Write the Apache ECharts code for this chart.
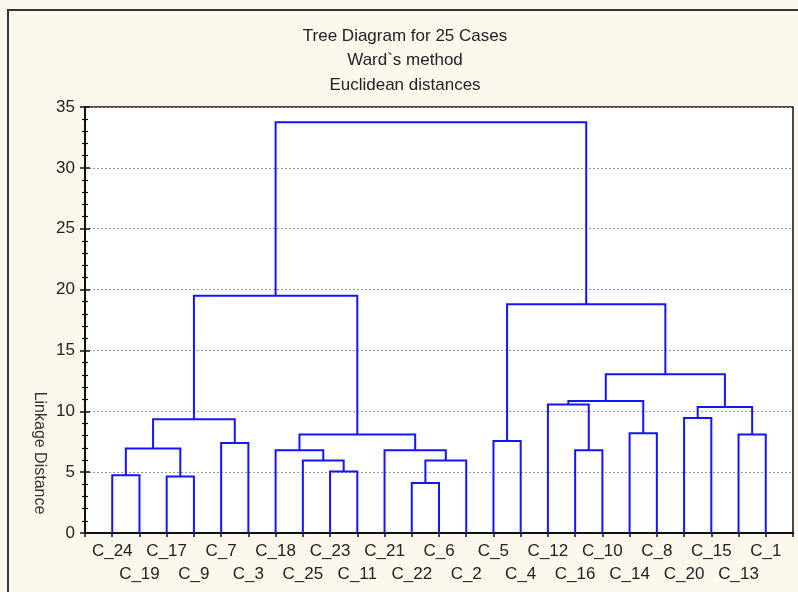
<!DOCTYPE html>
<html>
<head>
<meta charset="utf-8">
<script src="https://cdn.jsdelivr.net/npm/echarts@6/dist/echarts.min.js"></script>
<style>
  html, body { margin: 0; padding: 0; background: #fdf8ee; }
  #chart { width: 798px; height: 592px; }
</style>
</head>
<body>
<div id="chart"></div>
<script>
// leaf order along the x axis
const leafNames = ['C_24', 'C_19', 'C_17', 'C_9', 'C_7', 'C_3', 'C_18', 'C_25', 'C_23', 'C_11', 'C_21', 'C_22', 'C_6',
    'C_2', 'C_5', 'C_4', 'C_12', 'C_16', 'C_10', 'C_14', 'C_8', 'C_20', 'C_15', 'C_13', 'C_1'];
// merge steps: '#k' refers to the cluster made by step k
const joinA = ['C_22', 'C_17', 'C_24', 'C_23', 'C_25', '#0', 'C_18', 'C_21', 'C_16', '#2', 'C_7', 'C_5',
    '#6', 'C_13', 'C_14', '#9', 'C_20', '#16', 'C_12', '#18', '#19', '#15', '#11', '#21'];
const joinB = ['C_6', 'C_9', 'C_19', 'C_11', '#3', 'C_2', '#4', '#5', 'C_10', '#1', 'C_3', 'C_4',
    '#7', 'C_1', 'C_8', '#10', 'C_15', '#13', '#8', '#14', '#17', '#12', '#20', '#22'];
const joinHeight = [4.1, 4.65, 4.75, 5.05, 5.95, 5.95, 6.8, 6.8, 6.8, 6.95, 7.4, 7.55,
    8.1, 8.1, 8.2, 9.35, 9.45, 10.35, 10.55, 10.85, 13.05, 19.5, 18.8, 33.75];
const yTicks = [0, 35, 5];

const txt = '#222';
const font = 'Arial, "Liberation Sans", sans-serif';

function nodePos(ref) {
    if (ref.charAt(0) === '#') {
        const k = +ref.slice(1);
        const a = nodePos(joinA[k]), b = nodePos(joinB[k]);
        return { x: (a.x + b.x) / 2, h: joinHeight[k] };
    }
    return { x: leafNames.indexOf(ref) + 1, h: 0 };
}

const links = joinHeight.map((h, k) => {
    const a = nodePos(joinA[k]), b = nodePos(joinB[k]);
    return { coords: [[a.x, a.h], [a.x, h], [b.x, h], [b.x, b.h]] };
});

const myChart = echarts.init(document.getElementById('chart'));
const option = {
    backgroundColor: '#fdf8ee',
    animation: false,
    title: {
        text: 'Tree Diagram for 25 Cases\nWard`s method\nEuclidean distances',
        left: 405,
        top: 24,
        padding: 0,
        textAlign: 'center',
        textStyle: { fontSize: 17, fontWeight: 'normal', color: txt, fontFamily: font, lineHeight: 24.5 }
    },
    graphic: [{
        type: 'rect',
        shape: { x: 8, y: 10, width: 820, height: 620 },
        style: { fill: 'none', stroke: '#333', lineWidth: 2 },
        silent: true
    }, {
        type: 'text',
        x: 39, y: 453,
        rotation: -Math.PI / 2,
        style: { text: 'Linkage Distance', fill: '#333', font: '16px ' + font, textAlign: 'center', textVerticalAlign: 'middle' }
    }],
    grid: {
        left: 85, top: 107, right: 5, bottom: 59,
        show: true, backgroundColor: '#fff', borderColor: '#111', borderWidth: 1.5
    },
    xAxis: [{
        type: 'value', min: 0, max: leafNames.length + 1, interval: 1, position: 'bottom',
        axisLine: { show: true, lineStyle: { color: '#111', width: 2 } },
        axisTick: { show: false },
        splitLine: { show: false },
        axisLabel: {
            margin: 7, fontSize: 17, color: txt, fontFamily: font, lineHeight: 23,
            formatter: function (v) {
                const i = Math.round(v) - 1;
                if (i < 0 || i >= leafNames.length) return '';
                return i % 2 ? '\n' + leafNames[i] : leafNames[i];
            }
        }
    }, {
        type: 'value', min: 0, max: leafNames.length + 1, interval: 1, position: 'top',
        axisLine: { show: true, lineStyle: { color: '#111', width: 2 } },
        axisTick: { show: true, inside: true, length: 4, lineStyle: { color: '#111', width: 1.5 } },
        axisLabel: { show: false },
        splitLine: { show: false }
    }],
    yAxis: [{
        type: 'value', min: yTicks[0], max: yTicks[1], interval: yTicks[2], position: 'left',
        axisLine: { show: true, lineStyle: { color: '#111', width: 2 } },
        axisTick: { show: true, inside: true, length: 5, lineStyle: { color: '#111', width: 1.5 } },
        minorTick: { show: true, splitNumber: 5, length: 3, lineStyle: { color: '#111', width: 1.2 } },
        axisLabel: { margin: 10, fontSize: 17, color: txt, fontFamily: font },
        splitLine: { show: true, lineStyle: { color: '#999', type: [2, 2], width: 1 } }
    }, {
        type: 'value', min: yTicks[0], max: yTicks[1], interval: yTicks[2], position: 'right',
        axisLine: { show: true, lineStyle: { color: '#111', width: 2 } },
        axisTick: { show: true, inside: true, length: 5, lineStyle: { color: '#111', width: 1.5 } },
        minorTick: { show: true, splitNumber: 5, length: 3, lineStyle: { color: '#111', width: 1.2 } },
        axisLabel: { show: false },
        splitLine: { show: false }
    }],
    series: [{
        type: 'lines',
        coordinateSystem: 'cartesian2d',
        xAxisIndex: 0,
        yAxisIndex: 0,
        polyline: true,
        silent: true,
        lineStyle: { color: '#1414ff', width: 2, opacity: 1 },
        data: links
    }]
};
myChart.setOption(option);
</script>
</body>
</html>
